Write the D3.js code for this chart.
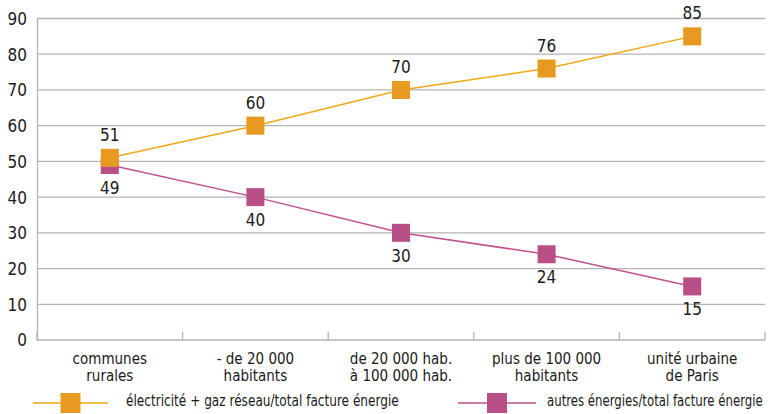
<!DOCTYPE html>
<meta charset="utf-8">
<style>
body { margin: 0; background: #fff; }
svg text { font-family: "DejaVu Sans Condensed", "DejaVu Sans", sans-serif; font-stretch: condensed; fill: #1a1a1a; }
.grid line { stroke: #b3b3b3; stroke-width: 1.3px; }
.axis path, .axis line { stroke: #b3b3b3; stroke-width: 1.3px; }
</style>
<body>
<svg width="777" height="414"></svg>
<script src="https://cdn.jsdelivr.net/npm/d3@7"></script>
<script>
const categories = [
  ["communes", "rurales"],
  ["- de 20 000", "habitants"],
  ["de 20 000 hab.", "à 100 000 hab."],
  ["plus de 100 000", "habitants"],
  ["unité urbaine", "de Paris"]
];
const elecGaz = [51, 60, 70, 76, 85];
const autres = [49, 40, 30, 24, 15];
const yTicks = [0, 10, 20, 30, 40, 50, 60, 70, 80, 90];
const seriesNames = ["électricité + gaz réseau/total facture énergie", "autres énergies/total facture énergie"];

const orange = "#E8991F", orangeLine = "#F0A815";
const pink = "#B84F86", pinkLine = "#C0518C";

const svg = d3.select("svg");
const mLeft = 37, mRight = 765, mTop = 18.5, mBottom = 340;

const x = d3.scaleBand().domain(d3.range(categories.length)).range([mLeft, mRight]);
const y = d3.scaleLinear().domain([0, 90]).range([mBottom, mTop]);

// grid
svg.append("g").attr("class", "grid")
  .selectAll("line").data(yTicks.slice(1)).join("line")
  .attr("x1", mLeft).attr("x2", mRight)
  .attr("y1", d => y(d)).attr("y2", d => y(d));

// y axis
const ya = svg.append("g").attr("class", "axis")
  .attr("transform", `translate(${mLeft},0)`)
  .call(d3.axisLeft(y).tickValues(yTicks).tickSize(0).tickPadding(10));
ya.selectAll("text").style("font-size", "17px").attr("dy", "0.35em");

// x axis
const xa = svg.append("g").attr("class", "axis")
  .attr("transform", `translate(0,${mBottom})`);
xa.append("line").attr("x1", mLeft).attr("x2", mRight);
xa.selectAll(".tk").data(d3.range(categories.length + 1)).join("line")
  .attr("class", "tk")
  .attr("x1", i => mLeft + i * x.bandwidth()).attr("x2", i => mLeft + i * x.bandwidth())
  .attr("y1", 0).attr("y2", -8);
xa.selectAll(".lbl").data(categories).join("text")
  .attr("class", "lbl")
  .attr("text-anchor", "middle")
  .attr("transform", (d, i) => `translate(${x(i) + x.bandwidth() / 2},0)`)
  .style("font-size", "15px")
  .selectAll("tspan").data(d => d).join("tspan")
  .attr("x", 0).attr("y", (d, i) => 24 + i * 17)
  .text(d => d);

const cx = i => x(i) + x.bandwidth() / 2;
const line = d3.line().x((d, i) => cx(i)).y(d => y(d));
const ms = 18;

function drawSeries(data, col, lcol) {
  const g = svg.append("g");
  g.append("path").datum(data).attr("d", line)
    .attr("fill", "none").attr("stroke", lcol).attr("stroke-width", 1.5);
  g.selectAll("rect").data(data).join("rect")
    .attr("x", (d, i) => cx(i) - ms / 2).attr("y", d => y(d) - ms / 2)
    .attr("width", ms).attr("height", ms).attr("fill", col);
  return g;
}
drawSeries(autres, pink, pinkLine);
drawSeries(elecGaz, orange, orangeLine);

svg.append("g").selectAll("text").data(elecGaz).join("text")
  .attr("x", (d, i) => cx(i)).attr("y", d => y(d) - 17)
  .attr("text-anchor", "middle").style("font-size", "17px").text(d => d);
svg.append("g").selectAll("text").data(autres).join("text")
  .attr("x", (d, i) => cx(i)).attr("y", d => y(d) + 29)
  .attr("text-anchor", "middle").style("font-size", "17px").text(d => d);

// legend
const legend = [
  { x1: 33, x2: 108, col: orange, lcol: orangeLine, tx: 126, len: 273, name: seriesNames[0] },
  { x1: 458, x2: 536, col: pink, lcol: pinkLine, tx: 547, len: 216, name: seriesNames[1] }
];
const lg = svg.append("g").selectAll("g").data(legend).join("g");
const ly = 403;
lg.append("line").attr("x1", d => d.x1).attr("x2", d => d.x2)
  .attr("y1", ly).attr("y2", ly).attr("stroke", d => d.lcol).attr("stroke-width", 1.5);
lg.append("rect").attr("x", d => (d.x1 + d.x2) / 2 - 10).attr("y", ly - 10)
  .attr("width", 20).attr("height", 20).attr("fill", d => d.col);
lg.append("text")
  .style("font-size", "15px").text(d => d.name)
  .attr("transform", function(d) {
    const w = this.getComputedTextLength();
    const sx = Math.min(1, d.len / w);
    return `translate(${d.tx},${ly + 3}) scale(${sx},1)`;
  });
</script>
</body>
